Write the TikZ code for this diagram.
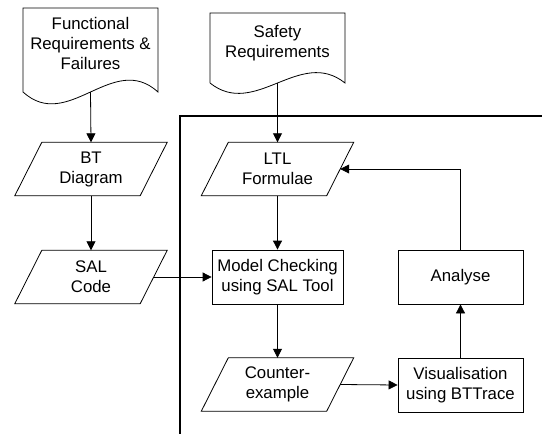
\documentclass[tikz,border=0pt]{standalone}
\usepackage{fontspec}
\setmainfont{Liberation Sans}
\usetikzlibrary{arrows.meta,calc}
\begin{document}
\begin{tikzpicture}[x=1pt,y=-1pt,
  outline/.style={draw=black,line width=0.8pt},
  conn/.style={draw=black,line width=0.8pt,-{Triangle[length=9pt,width=9pt]}},
  frameline/.style={draw=black,line width=2pt},
  txt/.style={align=center,inner sep=0pt,font=\fontsize{16.8}{20}\selectfont},
  para/.style={txt,minimum width=125pt,minimum height=53pt},
  box/.style={txt,outline,minimum height=54pt}
]
\useasboundingbox (0,0) rectangle (542,434);
\newcommand\paradraw[1]{\draw[outline] ([xshift=13.5pt]#1.north east) -- ([xshift=13.5pt]#1.north west) -- ([xshift=-13.5pt]#1.south west) -- ([xshift=-13.5pt]#1.south east) -- cycle;}

% frame
\draw[frameline] (542,116) -- (180,116) -- (180,436);

% documents
\node[txt] (func) at (90.5,43) {Functional\\Requirements \&\\Failures};
\draw[outline] (23,92) -- (23,8) -- (158,8) -- (158,92) .. controls (113,51) and (68,133) .. (23,92);
\coordinate (funcb) at (90.5,92);

\node[txt] (safe) at (277.5,43) {Safety\\Requirements};
\draw[outline] (210,83) -- (210,13) -- (345,13) -- (345,83) .. controls (300,47) and (255,119) .. (210,83);
\coordinate (safeb) at (277.5,83);

% parallelograms
\node[para] (bt) at (91,169) {BT\\Diagram};
\paradraw{bt}
\node[para] (sal) at (91,277) {SAL\\Code};
\paradraw{sal}
\node[para] (ltl) at (277.5,169) {LTL\\Formulae};
\paradraw{ltl}
\node[para] (ce) at (277.5,384.5) {Counter-\\example};
\paradraw{ce}

% boxes
\node[box,minimum width=131pt] (mc) at (277.5,277) {Model Checking\\using SAL Tool};
\node[box,minimum width=125pt] (an) at (460.5,277) {Analyse};
\node[box,minimum width=125pt] (vis) at (460.5,385) {Visualisation\\using BTTrace};

% connectors
\draw[conn] (funcb) -- (bt.north);
\draw[conn] (bt.south) -- (sal.north);
\draw[conn] (sal.east) -- (mc.west);
\draw[conn] (safeb) -- (ltl.north);
\draw[conn] (ltl.south) -- (mc.north);
\draw[conn] (mc.south) -- (ce.north);
\draw[conn] (ce.east) -- (vis.west);
\draw[conn] (vis.north) -- (an.south);
\draw[conn] (an.north) |- (ltl.east);
\end{tikzpicture}
\end{document}
